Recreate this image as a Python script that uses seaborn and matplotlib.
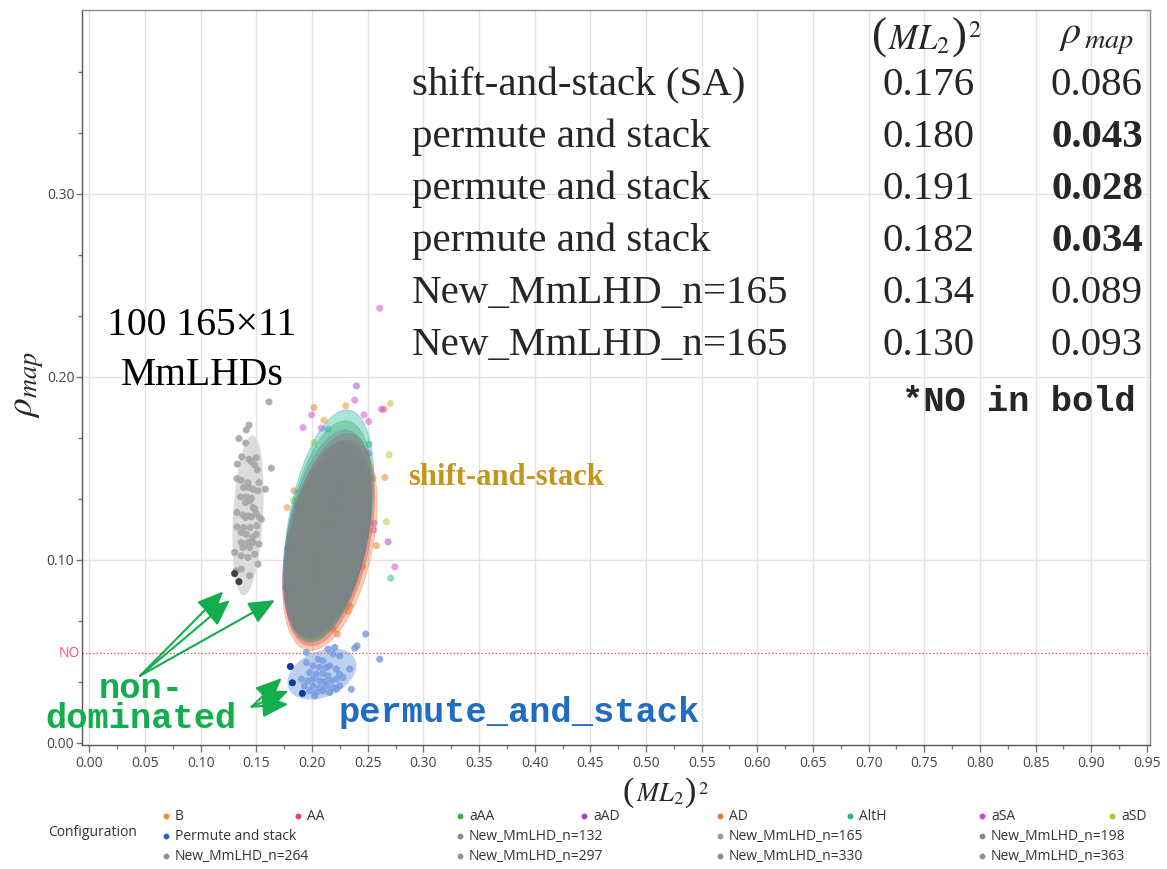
import numpy as np
import pandas as pd
import matplotlib
matplotlib.use("Agg")
import matplotlib.pyplot as plt
from matplotlib.lines import Line2D
from matplotlib.ticker import FixedLocator
from matplotlib.offsetbox import TextArea, HPacker, AnnotationBbox
import seaborn as sns

# ---------------------------------------------------------------- data
NO_LEVEL = 0.049

configs = ["B", "AA", "aAA", "aAD", "AD", "AltH", "aSA", "aSD"]

B_x = [0.2302, 0.2107, 0.2548, 0.1775, 0.2458, 0.2323]
B_y = [0.1842, 0.1763, 0.1446, 0.1286, 0.0962, 0.0718]
AA_x = [0.2644, 0.2200, 0.2050]
AA_y = [0.1823, 0.1300, 0.0900]
aAA_x = [0.2150, 0.2050, 0.2250]
aAA_y = [0.1200, 0.1000, 0.1400]
aAD_x = [0.2398, 0.2506, 0.1868, 0.2557, 0.2683]
aAD_y = [0.1951, 0.1581, 0.1295, 0.1200, 0.1098]
AD_x = [0.2017, 0.2653, 0.1837, 0.2578, 0.2338, 0.2188, 0.2228]
AD_y = [0.1832, 0.1450, 0.1377, 0.1077, 0.0747, 0.0621, 0.0594]
AltH_x = [0.2143, 0.2512, 0.2707, 0.1783]
AltH_y = [0.1714, 0.1632, 0.0900, 0.1067]
aSA_x = [0.2608, 0.2383, 0.2623, 0.1996, 0.2467, 0.2509, 0.1918, 0.2083,
         0.2554, 0.2743]
aSA_y = [0.2375, 0.1873, 0.1823, 0.1792, 0.1792, 0.1756, 0.1723, 0.1720,
         0.1162, 0.0962]
aSD_x = [0.2704, 0.2692, 0.2017, 0.1834, 0.2668]
aSD_y = [0.1854, 0.1574, 0.1641, 0.1326, 0.1208]
AltH_front_x = [0.1766]
AltH_front_y = [0.0849]

permute_x = [0.2482, 0.2404, 0.2383, 0.2203, 0.2143, 0.2188, 0.1949, 0.2248,
             0.2053, 0.2098, 0.1949, 0.2008, 0.2068, 0.2128, 0.2158, 0.2218,
             0.2338, 0.1978, 0.2038, 0.2098, 0.2143, 0.2248, 0.1904, 0.1963,
             0.2008, 0.2068, 0.2113, 0.2173, 0.2218, 0.2278, 0.1933, 0.2008,
             0.2068, 0.2128, 0.2188, 0.2248, 0.2038, 0.2098, 0.2158, 0.2218,
             0.2353, 0.2023, 0.1978, 0.2608]
permute_y = [0.0594, 0.0530, 0.0517, 0.0521, 0.0512, 0.0485, 0.0494, 0.0475,
             0.0457, 0.0448, 0.0439, 0.0421, 0.0412, 0.0412, 0.0421, 0.0403,
             0.0403, 0.0384, 0.0375, 0.0379, 0.0366, 0.0375, 0.0348, 0.0339,
             0.0348, 0.0339, 0.0335, 0.0339, 0.0348, 0.0357, 0.0311, 0.0311,
             0.0302, 0.0311, 0.0302, 0.0311, 0.0275, 0.0284, 0.0275, 0.0293,
             0.0293, 0.0257, 0.0284, 0.0457]
permute_front_x = [0.1805, 0.1823, 0.1913]
permute_front_y = [0.0417, 0.0328, 0.0270]

mmlhd_x = [0.1613, 0.1433, 0.1409, 0.1343, 0.1403, 0.1367, 0.1433, 0.1454,
           0.1499, 0.1328, 0.1484, 0.1508, 0.1634, 0.1325, 0.1364, 0.1424,
           0.1523, 0.1385, 0.1433, 0.1469, 0.1580, 0.1514, 0.1358, 0.1409,
           0.1454, 0.1439, 0.1403, 0.1469, 0.1484, 0.1325, 0.1379, 0.1424,
           0.1403, 0.1454, 0.1529, 0.1544, 0.1499, 0.1325, 0.1385, 0.1445,
           0.1505, 0.1364, 0.1409, 0.1463, 0.1499, 0.1364, 0.1424, 0.1469,
           0.1523, 0.1379, 0.1439, 0.1304, 0.1484, 0.1364, 0.1424, 0.1514,
           0.1319, 0.1364, 0.1439]
mmlhd_y = [0.1863, 0.1736, 0.1710, 0.1663, 0.1638, 0.1563, 0.1550, 0.1537,
           0.1559, 0.1523, 0.1519, 0.1492, 0.1501, 0.1444, 0.1435, 0.1422,
           0.1422, 0.1395, 0.1395, 0.1386, 0.1386, 0.1377, 0.1344, 0.1344,
           0.1337, 0.1322, 0.1313, 0.1286, 0.1277, 0.1259, 0.1246, 0.1240,
           0.1231, 0.1235, 0.1231, 0.1222, 0.1251, 0.1180, 0.1177, 0.1177,
           0.1186, 0.1149, 0.1140, 0.1122, 0.1140, 0.1095, 0.1095, 0.1095,
           0.1086, 0.1067, 0.1067, 0.1040, 0.1031, 0.1022, 0.1013, 0.0976,
           0.0940, 0.0949, 0.0913]
mmlhd_front_x = [0.1304, 0.1343]
mmlhd_front_y = [0.0925, 0.0881]

# density ellipses (drawing order): centre, x half-extent, y half-extent, correlation
ell_names = ["aSD", "B", "AD", "aSA", "aAD", "aAA", "AA", "AltH"]
ell_cx = [0.2140, 0.2140, 0.2160, 0.2140, 0.2135, 0.2145, 0.2155, 0.2150]
ell_cy = [0.1090, 0.1090, 0.1080, 0.1140, 0.1115, 0.1160, 0.1110, 0.1185]
ell_kx = [0.0380, 0.0390, 0.0425, 0.0395, 0.0400, 0.0395, 0.0405, 0.0405]
ell_ky = [0.0490, 0.0540, 0.0575, 0.0570, 0.0535, 0.0600, 0.0580, 0.0635]
ell_r = [0.40, 0.41, 0.40, 0.40, 0.40, 0.39, 0.41, 0.40]

mmlhd_ell = (0.1425, 0.1243, 0.0140, 0.0437, 0.28)
permute_ell = (0.2088, 0.0376, 0.0310, 0.0140, 0.33)

# summary table
table_rows = ["shift-and-stack (SA)", "permute and stack", "permute and stack",
              "permute and stack", "New_MmLHD_n=165", "New_MmLHD_n=165"]
table_ml2 = [0.176, 0.180, 0.191, 0.182, 0.134, 0.130]
table_rho = [0.086, 0.043, 0.028, 0.034, 0.089, 0.093]

# arrows: (tail x, tail y, head x, head y)
arrows_upper = [(0.0454, 0.0366, 0.1202, 0.0827),
                (0.0454, 0.0366, 0.1262, 0.0780),
                (0.0454, 0.0366, 0.1667, 0.0780)]
arrows_lower = [(0.1457, 0.0197, 0.1727, 0.0354),
                (0.1457, 0.0197, 0.1786, 0.0284),
                (0.1457, 0.0197, 0.1786, 0.0211)]

x_ticks = np.round(np.arange(0, 0.951, 0.05), 2)
y_ticks = [0.0, 0.1, 0.2, 0.3]

palette = {"B": "#F28C28", "AA": "#E8435A", "aAA": "#37AE4A", "aAD": "#A23FDB",
           "AD": "#E37A2F", "AltH": "#22B19E", "aSA": "#D443D4", "aSD": "#BFBF2A"}
PERMUTE = "#2D62C7"
MMLHD = "#a6a6a6"

legend_row1 = configs
legend_row2 = ["Permute and stack", "New_MmLHD_n=132", "New_MmLHD_n=165", "New_MmLHD_n=198"]
legend_row3 = ["New_MmLHD_n=264", "New_MmLHD_n=297", "New_MmLHD_n=330", "New_MmLHD_n=363"]
legend_gray = {"New_MmLHD_n=132": "#8a8a8a", "New_MmLHD_n=165": "#9a9a9a",
               "New_MmLHD_n=198": "#888888", "New_MmLHD_n=264": "#8e8e8e",
               "New_MmLHD_n=297": "#939393", "New_MmLHD_n=330": "#8c8c8c",
               "New_MmLHD_n=363": "#909090"}

# ---------------------------------------------------------------- figure
sns.set_theme(style="white")
plt.rcParams["font.family"] = ["Open Sans", "DejaVu Sans"]
plt.rcParams["mathtext.fontset"] = "stix"

SERIF = ["Liberation Serif", "DejaVu Serif"]
MONO = ["Liberation Mono", "DejaVu Sans Mono"]
GREEN = "#14ad4d"

W, H = 1167, 869
fig = plt.figure(figsize=(W / 100, H / 100), dpi=100)
ax = fig.add_axes([82 / W, 1 - 745 / H, (1150 - 82) / W, (745 - 10) / H])
ax.set_xlim(-0.0067, 0.9528)
ax.set_ylim(-0.0012, 0.4005)


def ellipse(cx, cy, kx, ky, r, n=240):
    t = np.linspace(0, 2 * np.pi, n)
    ex = cx + kx * np.cos(t)
    ey = cy + ky * (r * np.cos(t) + np.sqrt(1 - r * r) * np.sin(t))
    return ex, ey


def frame(xs, ys, name):
    return pd.DataFrame({"ml2": xs, "rho": ys, "Configuration": name})


def ftext(px, py, s, **kw):
    return fig.text(px / W, 1 - py / H, s, **kw)


def ml2_label(px, py, size):
    paren = dict(fontsize=size * 1.3, family=SERIF)
    parts = [TextArea("(", textprops=paren),
             TextArea(r"$ML_2$", textprops=dict(fontsize=size)),
             TextArea(")", textprops=paren),
             TextArea(r"$^2$", textprops=dict(fontsize=size))]
    box = HPacker(children=parts, align="baseline", pad=0, sep=1)
    ab = AnnotationBbox(box, (px / W, 1 - py / H), xycoords="figure fraction",
                        frameon=False, box_alignment=(0.5, 0.5), pad=0)
    fig.add_artist(ab)


# grid
for xv in x_ticks:
    ax.axvline(xv, color="#e3e3e3", lw=1, zorder=0)
for yv in y_ticks[1:]:
    ax.axhline(yv, color="#e3e3e3", lw=1, zorder=0)

# background ellipses
ex, ey = ellipse(*mmlhd_ell)
ax.fill(ex, ey, color="#dadada", alpha=0.95, lw=0, zorder=1)
ex, ey = ellipse(*permute_ell)
ax.fill(ex, ey, color="#a9c1ec", alpha=0.75, lw=0, zorder=1)

# points
colored = pd.concat([frame(B_x, B_y, "B"), frame(AA_x, AA_y, "AA"),
                     frame(aAA_x, aAA_y, "aAA"), frame(aAD_x, aAD_y, "aAD"),
                     frame(AD_x, AD_y, "AD"), frame(AltH_x, AltH_y, "AltH"),
                     frame(aSA_x, aSA_y, "aSA"), frame(aSD_x, aSD_y, "aSD")])
sns.scatterplot(data=colored, x="ml2", y="rho", hue="Configuration",
                palette=palette, s=26, alpha=0.5, edgecolor="none",
                legend=False, ax=ax, zorder=2)
sns.scatterplot(data=frame(AltH_front_x, AltH_front_y, "AltH"), x="ml2", y="rho",
                color="#1aa5a0", s=26, edgecolor="none", legend=False, ax=ax, zorder=2)
sns.scatterplot(data=frame(mmlhd_x, mmlhd_y, "New_MmLHD_n=165"), x="ml2", y="rho",
                color=MMLHD, s=26, alpha=0.9, edgecolor="none", legend=False,
                ax=ax, zorder=2)
sns.scatterplot(data=frame(mmlhd_front_x, mmlhd_front_y, "New_MmLHD_n=132"),
                x="ml2", y="rho", color="#404040", s=26, edgecolor="none",
                legend=False, ax=ax, zorder=2)
sns.scatterplot(data=frame(permute_x, permute_y, "Permute and stack"), x="ml2",
                y="rho", color="#7399df", s=26, alpha=0.8, edgecolor="none",
                legend=False, ax=ax, zorder=2)
sns.scatterplot(data=frame(permute_front_x, permute_front_y, "Permute and stack"),
                x="ml2", y="rho", color="#0d3b9e", s=26, edgecolor="none",
                legend=False, ax=ax, zorder=2)

# configuration ellipses drawn over their points
for name, cx, cy, kx, ky, r in zip(ell_names, ell_cx, ell_cy, ell_kx, ell_ky, ell_r):
    ex, ey = ellipse(cx, cy, kx, ky, r)
    ax.fill(ex, ey, facecolor=palette[name], alpha=0.37, lw=0, zorder=3)
    ax.plot(ex, ey, color=palette[name], alpha=0.35, lw=0.6, zorder=3)

# NO reference line
ax.axhline(NO_LEVEL, color="#e05a5a", lw=0.9, ls=(0, (1.2, 1.6)), zorder=1)
ax.text(-0.002, NO_LEVEL, "NO", transform=ax.get_yaxis_transform(), ha="right",
        va="center", fontsize=10, color="#ff4d6d")

# axes styling
ax.set_xticks(x_ticks)
ax.set_xticklabels([f"{v:.2f}" for v in x_ticks])
ax.set_yticks(y_ticks)
ax.set_yticklabels([f"{v:.2f}" for v in y_ticks])
ax.xaxis.set_minor_locator(FixedLocator(np.arange(0.025, 0.95, 0.05)))
ax.yaxis.set_minor_locator(FixedLocator(np.arange(1, 12) * 0.1 / 3))
ax.tick_params(axis="both", which="major", direction="out", length=5, width=1,
               color="#777777", labelsize=10, labelcolor="#444444", pad=3)
ax.tick_params(axis="y", which="major", length=4, pad=1.5)
ax.tick_params(axis="both", which="minor", direction="out", length=3, width=1,
               color="#777777")
ax.tick_params(axis="x", which="both", bottom=True)
ax.tick_params(axis="y", which="both", left=True)
ax.set_xlabel("")
ax.set_ylabel("")
for side in ["left", "bottom"]:
    ax.spines[side].set_color("#555555")
    ax.spines[side].set_linewidth(1.0)
for side in ["top", "right"]:
    ax.spines[side].set_color("#8a8a8a")
    ax.spines[side].set_linewidth(1.0)

# arrows
for tx, ty, hx, hy in arrows_upper + arrows_lower:
    ax.annotate("", xy=(hx, hy), xytext=(tx, ty),
                arrowprops=dict(arrowstyle="-|>,head_length=0.8,head_width=0.35",
                                color=GREEN, lw=1.5, shrinkA=0, shrinkB=0,
                                mutation_scale=20), zorder=5)

# in-plot annotations
ax.text(0.0463, 0.0246, "non-", ha="center", va="baseline", family=MONO,
        fontweight="bold", fontsize=25.5, color=GREEN, zorder=6)
ax.text(0.0463, 0.0082, "dominated", ha="center", va="baseline", family=MONO,
        fontweight="bold", fontsize=25.5, color=GREEN, zorder=6)
ax.text(0.2233, 0.0164, "permute_and_stack", ha="left", va="center", family=MONO,
        fontweight="bold", fontsize=25.5, color="#1f6cc0", zorder=6)
ax.text(0.2862, 0.1450, "shift-and-stack", ha="left", va="center", family=SERIF,
        fontweight="bold", fontsize=22, color="#c4961c", zorder=6)

ftext(202, 335, "100 165×11", ha="center", va="baseline", family=SERIF,
      fontsize=28.5, color="black")
ftext(202, 385, "MmLHDs", ha="center", va="baseline", family=SERIF,
      fontsize=28.5, color="black")

# summary table
ml2_label(927, 38, 25)
ftext(1097, 37, r"$\rho_{\,map}$", ha="center", va="center", fontsize=29)
for i, (lab, m, r) in enumerate(zip(table_rows, table_ml2, table_rho)):
    base = 95 + 52 * i
    ftext(412, base, lab, ha="left", va="baseline", family=SERIF, fontsize=29.5)
    ftext(975, base, f"{m:.3f}", ha="right", va="baseline", family=SERIF,
          fontsize=29.5)
    ftext(1143, base, f"{r:.3f}", ha="right", va="baseline", family=SERIF,
          fontsize=29.5, fontweight="bold" if r < NO_LEVEL else "normal")
ftext(1136, 411, "*NO in bold", ha="right", va="baseline", family=MONO,
      fontweight="bold", fontsize=25.5)

# axis titles
ml2_label(666, 793, 19)
ftext(27, 385, r"$\rho_{map}$", ha="center", va="center", fontsize=27, rotation=90)

# legend
ftext(48, 832, "Configuration", ha="left", va="center", fontsize=10, color="#333333")


def legend_entry(px, py, label, color):
    fig.add_artist(Line2D([px / W], [1 - py / H], transform=fig.transFigure,
                          marker="o", ms=3.2, color=color, ls=""))
    ftext(px + 9, py, label, ha="left", va="center", fontsize=10, color="#333333")


col_x = [166, 298, 460, 584, 720, 850, 982, 1112]
for i, name in enumerate(legend_row1):
    legend_entry(col_x[i], 816, name, palette[name])
for j, name in enumerate(legend_row2):
    legend_entry(col_x[2 * j], 836, name,
                 PERMUTE if name == "Permute and stack" else legend_gray[name])
for j, name in enumerate(legend_row3):
    legend_entry(col_x[2 * j], 856, name, legend_gray[name])

fig.savefig("out.png", dpi=100)
